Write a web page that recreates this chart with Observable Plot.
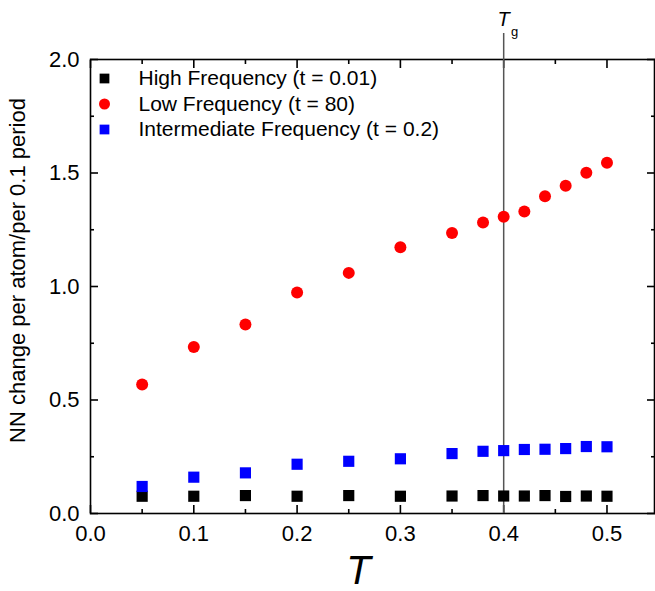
<!DOCTYPE html>
<html>
<head>
<meta charset="utf-8">
<script src="https://cdn.jsdelivr.net/npm/d3@7"></script>
<script src="https://cdn.jsdelivr.net/npm/@observablehq/plot@0.6"></script>
<style>
  html, body { margin: 0; padding: 0; background: #fff; }
  svg { display: block; }
</style>
</head>
<body>
<div id="chart"></div>
<script>
// ---- data ----
const temps = [0.05, 0.10, 0.15, 0.20, 0.25, 0.30, 0.35, 0.38, 0.40, 0.42, 0.44, 0.46, 0.48, 0.50];
const highFreq = [0.076, 0.076, 0.079, 0.076, 0.079, 0.076, 0.077, 0.079, 0.077, 0.077, 0.079, 0.075, 0.077, 0.076];
const lowFreq = [0.568, 0.733, 0.833, 0.974, 1.060, 1.173, 1.236, 1.282, 1.307, 1.330, 1.398, 1.444, 1.501, 1.545];
const interFreq = [0.119, 0.160, 0.179, 0.217, 0.230, 0.241, 0.264, 0.274, 0.277, 0.282, 0.283, 0.286, 0.295, 0.294];
const seriesNames = ["High Frequency (t = 0.01)", "Low Frequency (t = 80)", "Intermediate Frequency (t = 0.2)"];
const seriesColors = ["#000000", "#ff0000", "#0000ff"];
const seriesSymbols = ["square", "circle", "square"];
const xTicks = [0, 0.1, 0.2, 0.3, 0.4, 0.5];
const xMinor = [0.05, 0.15, 0.25, 0.35, 0.45];
const yTicks = [0, 0.5, 1.0, 1.5, 2.0];
const yMinor = [0.25, 0.75, 1.25, 1.75];
const Tg = 0.4;
const xLabel = "T";
const yLabel = "NN change per atom/per 0.1 period";

const seriesValues = [highFreq, lowFreq, interFreq];
const rows = seriesValues.flatMap((vals, i) =>
  vals.map((v, j) => ({T: temps[j], v, s: i}))
);

const font = "'Liberation Sans', Arial, sans-serif";
const noLabel = () => "";

const legendMarks = seriesNames.flatMap((name, i) => [
  Plot.dot([name], {
    frameAnchor: "top-left", dx: 14, dy: 19 + i * 25.5,
    symbol: seriesSymbols[i], fill: seriesColors[i], r: 5.5
  }),
  Plot.text([name], {
    frameAnchor: "top-left", dx: 48, dy: 19 + i * 25.5, text: d => d,
    textAnchor: "start", lineAnchor: "middle", fontSize: 21, fill: "#000"
  })
]);

const chart = Plot.plot({
  width: 655,
  height: 591,
  marginLeft: 90,
  marginRight: 1,
  marginTop: 59,
  marginBottom: 78,
  style: {fontFamily: font, fontSize: "22px", background: "#fff", overflow: "visible", color: "#000"},
  x: {domain: [0, 0.546]},
  y: {domain: [0, 2]},
  marks: [
    Plot.frame({stroke: "#000", strokeWidth: 1.6}),
    Plot.axisX(xTicks, {anchor: "bottom", tickSize: -8, tickPadding: 20, tickFormat: d3.format(".1f"), strokeWidth: 1.6, label: null}),
    Plot.axisX(xMinor, {anchor: "bottom", tickSize: -4, tickFormat: noLabel, strokeWidth: 1.6, label: null}),
    Plot.axisX(xTicks, {anchor: "top", tickSize: -8, tickFormat: noLabel, strokeWidth: 1.6, label: null}),
    Plot.axisX(xMinor, {anchor: "top", tickSize: -4, tickFormat: noLabel, strokeWidth: 1.6, label: null}),
    Plot.axisY(yTicks, {anchor: "left", tickSize: -8, tickPadding: 19, tickFormat: d3.format(".1f"), strokeWidth: 1.6, label: null}),
    Plot.axisY(yMinor, {anchor: "left", tickSize: -4, tickFormat: noLabel, strokeWidth: 1.6, label: null}),
    Plot.axisY(yTicks, {anchor: "right", tickSize: -8, tickFormat: noLabel, strokeWidth: 1.6, label: null}),
    Plot.axisY(yMinor, {anchor: "right", tickSize: -4, tickFormat: noLabel, strokeWidth: 1.6, label: null}),
    Plot.ruleX([Tg], {y1: 0, y2: 2.115, stroke: "#555", strokeWidth: 1.5}),
    Plot.text([xLabel], {x: Tg, frameAnchor: "top", lineAnchor: "middle", dy: -40, text: d => d, fontSize: 20, fontStyle: "italic", fill: "#000"}),
    Plot.text(["g"], {x: Tg, frameAnchor: "top", lineAnchor: "middle", dx: 11, dy: -28, text: d => d, fontSize: 13, fill: "#000"}),
    Plot.dot(rows, {x: "T", y: "v", symbol: d => seriesSymbols[d.s], fill: d => seriesColors[d.s], r: d => seriesSymbols[d.s] === "circle" ? 6 : 6.3}),
    ...legendMarks,
    Plot.text([xLabel], {frameAnchor: "bottom", lineAnchor: "bottom", dx: -14, dy: 70, text: d => d, fontSize: 40, fontStyle: "italic", fill: "#000"}),
    Plot.text([yLabel], {frameAnchor: "left", textAnchor: "middle", lineAnchor: "middle", rotate: -90, dx: -73, dy: -16, text: d => d, fontSize: 22, fill: "#000"})
  ],
  symbol: {type: "identity"},
  color: {type: "identity"},
  r: {type: "identity"}
});
document.getElementById("chart").appendChild(chart);
</script>
</body>
</html>
